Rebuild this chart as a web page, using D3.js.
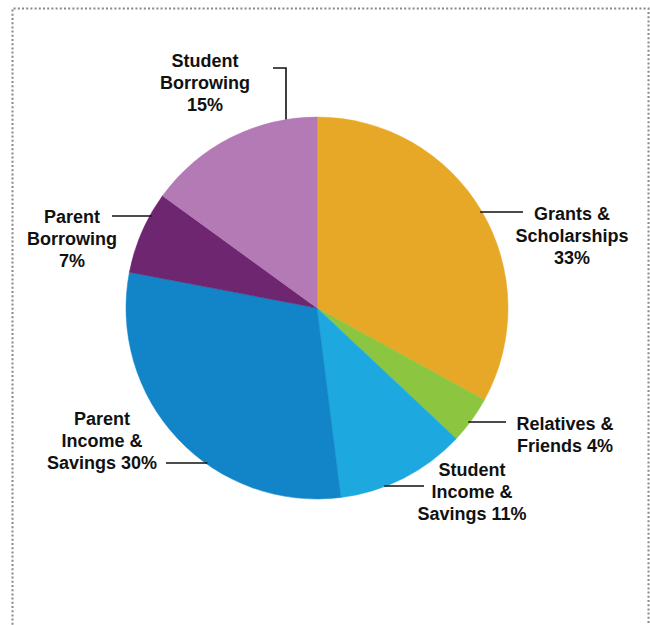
<!DOCTYPE html>
<html>
  <head>
    <meta charset="utf-8">
    <script src="https://d3js.org/d3.v7.min.js" charset="utf-8"></script>
    <style>
    body {
      margin: 0;
      background-color: #fff;
    }

    .label text {
      font-family: "Liberation Sans", Arial, sans-serif;
      font-weight: bold;
      font-size: 18px;
      fill: #111;
    }
    </style>
    <title>Paying for college</title>
  </head>
  <body>
    <div class="chart"></div>

    <script>

      // slices, clockwise from 12 o'clock
      var categories = ["Grants & Scholarships", "Relatives & Friends", "Student Income & Savings",
                        "Parent Income & Savings", "Parent Borrowing", "Student Borrowing"];
      var shares = [33, 4, 11, 30, 7, 15];
      var colors = ["#e8a827", "#8cc540", "#1ea8e0", "#1285c8", "#6e2670", "#b47ab5"];
      // label text broken into lines the way the original does it
      var labelLines = [
        ["Grants &", "Scholarships", "33%"],
        ["Relatives &", "Friends 4%"],
        ["Student", "Income &", "Savings 11%"],
        ["Parent", "Income &", "Savings 30%"],
        ["Parent", "Borrowing", "7%"],
        ["Student", "Borrowing", "15%"]
      ];

      var width = 650;
      var height = 625;
      var cx = 317, cy = 308, radius = 191;

      // where each label sits and where its leader line goes
      var layout = [
        {x: 572, y: 220, leaderY: 212, leaderEnd: 523, side: 1},
        {x: 565, y: 430, leaderY: 422, leaderEnd: 506, side: 1},
        {x: 472, y: 476, leaderY: 486, leaderEnd: 424, side: 1},
        {x: 102, y: 425, leaderY: 463, leaderEnd: 166, side: -1},
        {x: 72,  y: 223, leaderY: 216, leaderEnd: 112, side: -1},
        {x: 205, y: 67,  leaderX: 286, leaderY: 68, leaderEnd: 273, side: 0}
      ];

      var svg = d3.select(".chart").append("svg")
          .attr("width", width)
          .attr("height", height);

      // dotted frame
      svg.append("path")
          .attr("d", "M12.5,650 L12.5,8.5 L648.5,8.5 L648.5,650")
          .attr("fill", "none")
          .attr("stroke", "#888")
          .attr("stroke-width", 2)
          .attr("stroke-dasharray", "2,2.2");

      var data = categories.map(function(c, i) {
        return {name: c, value: shares[i], color: colors[i], lines: labelLines[i], pos: layout[i]};
      });

      var pie = d3.pie()
          .sort(null)
          .value(function(d) { return d.value; });

      var arc = d3.arc()
          .innerRadius(0)
          .outerRadius(radius);

      var g = svg.append("g")
          .attr("transform", "translate(" + cx + "," + cy + ")");

      g.selectAll("path")
          .data(pie(data))
          .enter().append("path")
          .attr("d", arc)
          .attr("fill", function(d) { return d.data.color; })
          .attr("stroke", function(d) { return d.data.color; })
          .attr("stroke-width", 0.5);

      // leader lines, inner end found on the pie's rim
      var leaders = svg.append("g")
          .attr("stroke", "#111")
          .attr("stroke-width", 1.6)
          .attr("fill", "none");

      data.forEach(function(d) {
        var p = d.pos;
        var pts;
        if (p.side === 0) {
          var dx = p.leaderX - cx;
          var rimY = cy - Math.sqrt(radius * radius - dx * dx);
          pts = [[p.leaderEnd, p.leaderY], [p.leaderX, p.leaderY], [p.leaderX, rimY]];
        } else {
          var dy = p.leaderY - cy;
          var rimX = cx + p.side * Math.sqrt(radius * radius - dy * dy);
          pts = [[rimX - p.side * 2, p.leaderY], [p.leaderEnd, p.leaderY]];
        }
        leaders.append("path").attr("d", d3.line()(pts));
      });

      var labels = svg.append("g")
          .attr("class", "label")
        .selectAll("text")
          .data(data)
          .enter().append("text")
          .attr("text-anchor", "middle")
          .attr("transform", function(d) { return "translate(" + d.pos.x + "," + d.pos.y + ")"; });

      labels.selectAll("tspan")
          .data(function(d) { return d.lines; })
          .enter().append("tspan")
          .attr("x", 0)
          .attr("y", function(d, i) { return i * 22; })
          .text(function(d) { return d; });

    </script>
  </body>
</html>
